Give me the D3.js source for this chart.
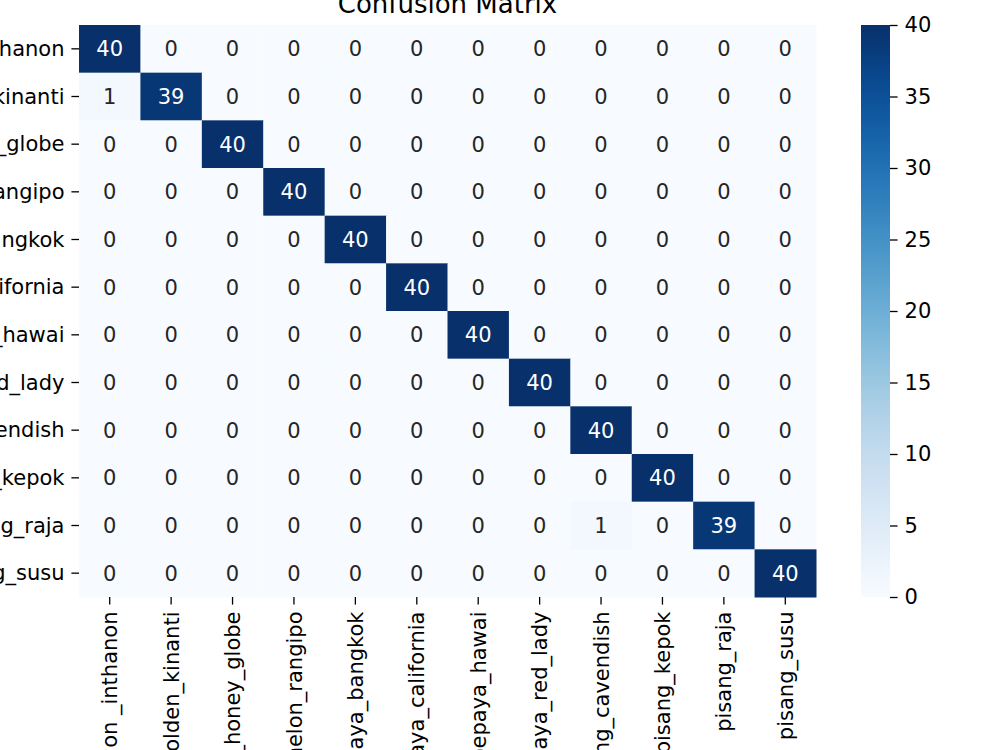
<!DOCTYPE html>
<html>
<head>
<meta charset="utf-8">
<script src="https://cdn.jsdelivr.net/npm/d3@7"></script>
<style>
  body { margin: 0; background: #fff; }
  svg { display: block; font-family: "DejaVu Sans", sans-serif; }
</style>
</head>
<body>
<div id="chart"></div>
<script>
// class names (rows = true, cols = predicted)
var labels = ["melon _inthanon", "melon_golden_kinanti", "melon_honey_globe", "melon_rangipo",
  "pepaya_bangkok", "pepaya_california", "pepaya_hawai", "pepaya_red_lady",
  "pisang_cavendish", "pisang_kepok", "pisang_raja", "pisang_susu"];

// confusion matrix values
var matrix = [
  [40, 0, 0, 0, 0, 0, 0, 0, 0, 0, 0, 0],
  [1, 39, 0, 0, 0, 0, 0, 0, 0, 0, 0, 0],
  [0, 0, 40, 0, 0, 0, 0, 0, 0, 0, 0, 0],
  [0, 0, 0, 40, 0, 0, 0, 0, 0, 0, 0, 0],
  [0, 0, 0, 0, 40, 0, 0, 0, 0, 0, 0, 0],
  [0, 0, 0, 0, 0, 40, 0, 0, 0, 0, 0, 0],
  [0, 0, 0, 0, 0, 0, 40, 0, 0, 0, 0, 0],
  [0, 0, 0, 0, 0, 0, 0, 40, 0, 0, 0, 0],
  [0, 0, 0, 0, 0, 0, 0, 0, 40, 0, 0, 0],
  [0, 0, 0, 0, 0, 0, 0, 0, 0, 40, 0, 0],
  [0, 0, 0, 0, 0, 0, 0, 0, 1, 0, 39, 0],
  [0, 0, 0, 0, 0, 0, 0, 0, 0, 0, 0, 40]
];

var colorTicks = [0, 5, 10, 15, 20, 25, 30, 35, 40];

var width = 1000, height = 750;
var mLeft = 79, mTop = 25, mRight = 816, mBottom = 597;
var fs = 21;

var svg = d3.select("#chart").append("svg")
  .attr("width", width)
  .attr("height", height);

var x = d3.scaleBand().domain(d3.range(labels.length)).range([mLeft, mRight]);
var y = d3.scaleBand().domain(d3.range(labels.length)).range([mTop, mBottom]);
var color = d3.scaleSequential(d3.interpolateBlues).domain([0, 40]);

var cells = [];
matrix.forEach(function(row, i) {
  row.forEach(function(v, j) { cells.push({ r: i, c: j, v: v }); });
});

svg.selectAll("rect.cell")
  .data(cells)
  .enter()
  .append("rect")
  .attr("class", "cell")
  .attr("x", function(d) { return x(d.c); })
  .attr("y", function(d) { return y(d.r); })
  .attr("width", x.bandwidth() + 0.5)
  .attr("height", y.bandwidth() + 0.5)
  .attr("fill", function(d) { return color(d.v); });

svg.selectAll("text.val")
  .data(cells)
  .enter()
  .append("text")
  .attr("class", "val")
  .attr("x", function(d) { return x(d.c) + x.bandwidth() / 2; })
  .attr("y", function(d) { return y(d.r) + y.bandwidth() / 2; })
  .attr("dy", "0.36em")
  .attr("text-anchor", "middle")
  .attr("font-size", fs)
  .attr("fill", function(d) { return d.v > 20 ? "#fff" : "#262626"; })
  .text(function(d) { return d.v; });

// y axis (row labels)
var yAxis = svg.append("g");
labels.forEach(function(l, i) {
  var cy = y(i) + y.bandwidth() / 2;
  yAxis.append("line")
    .attr("x1", mLeft - 7.6).attr("x2", mLeft)
    .attr("y1", cy).attr("y2", cy)
    .attr("stroke", "#000").attr("stroke-width", 1.3);
  yAxis.append("text")
    .attr("x", mLeft - 14.5)
    .attr("y", cy)
    .attr("dy", "0.34em")
    .attr("text-anchor", "end")
    .attr("font-size", fs)
    .text(l);
});

// x axis (column labels, rotated)
var xAxis = svg.append("g");
labels.forEach(function(l, j) {
  var cx = x(j) + x.bandwidth() / 2;
  xAxis.append("line")
    .attr("x1", cx).attr("x2", cx)
    .attr("y1", mBottom).attr("y2", mBottom + 7.6)
    .attr("stroke", "#000").attr("stroke-width", 1.3);
  xAxis.append("text")
    .attr("transform", "translate(" + cx + "," + (mBottom + 14.5) + ") rotate(-90)")
    .attr("dy", "0.36em")
    .attr("text-anchor", "end")
    .attr("font-size", fs)
    .text(l);
});

// title
svg.append("text")
  .attr("x", (mLeft + mRight) / 2)
  .attr("y", 13)
  .attr("text-anchor", "middle")
  .attr("font-size", 26)
  .text("Confusion Matrix");

// colorbar
var cbX = 861, cbW = 29;
var cbScale = d3.scaleLinear().domain([0, 40]).range([mBottom, mTop]);
var defs = svg.append("defs");
var grad = defs.append("linearGradient")
  .attr("id", "cbgrad")
  .attr("x1", 0).attr("y1", 1).attr("x2", 0).attr("y2", 0);
d3.range(0, 1.0001, 0.05).forEach(function(t) {
  grad.append("stop")
    .attr("offset", t)
    .attr("stop-color", d3.interpolateBlues(t));
});
svg.append("rect")
  .attr("x", cbX).attr("y", mTop)
  .attr("width", cbW).attr("height", mBottom - mTop)
  .attr("fill", "url(#cbgrad)");

var cbAxis = d3.axisRight(cbScale)
  .tickValues(colorTicks)
  .tickSize(7.6)
  .tickPadding(7)
  .tickFormat(d3.format("d"));
var cbG = svg.append("g")
  .attr("transform", "translate(" + (cbX + cbW) + ",0)")
  .call(cbAxis);
cbG.select(".domain").remove();
cbG.selectAll(".tick line").attr("stroke", "#000").attr("stroke-width", 1.3);
cbG.selectAll(".tick text")
  .attr("font-size", fs)
  .attr("font-family", "DejaVu Sans")
  .attr("fill", "#000");
</script>
</body>
</html>
